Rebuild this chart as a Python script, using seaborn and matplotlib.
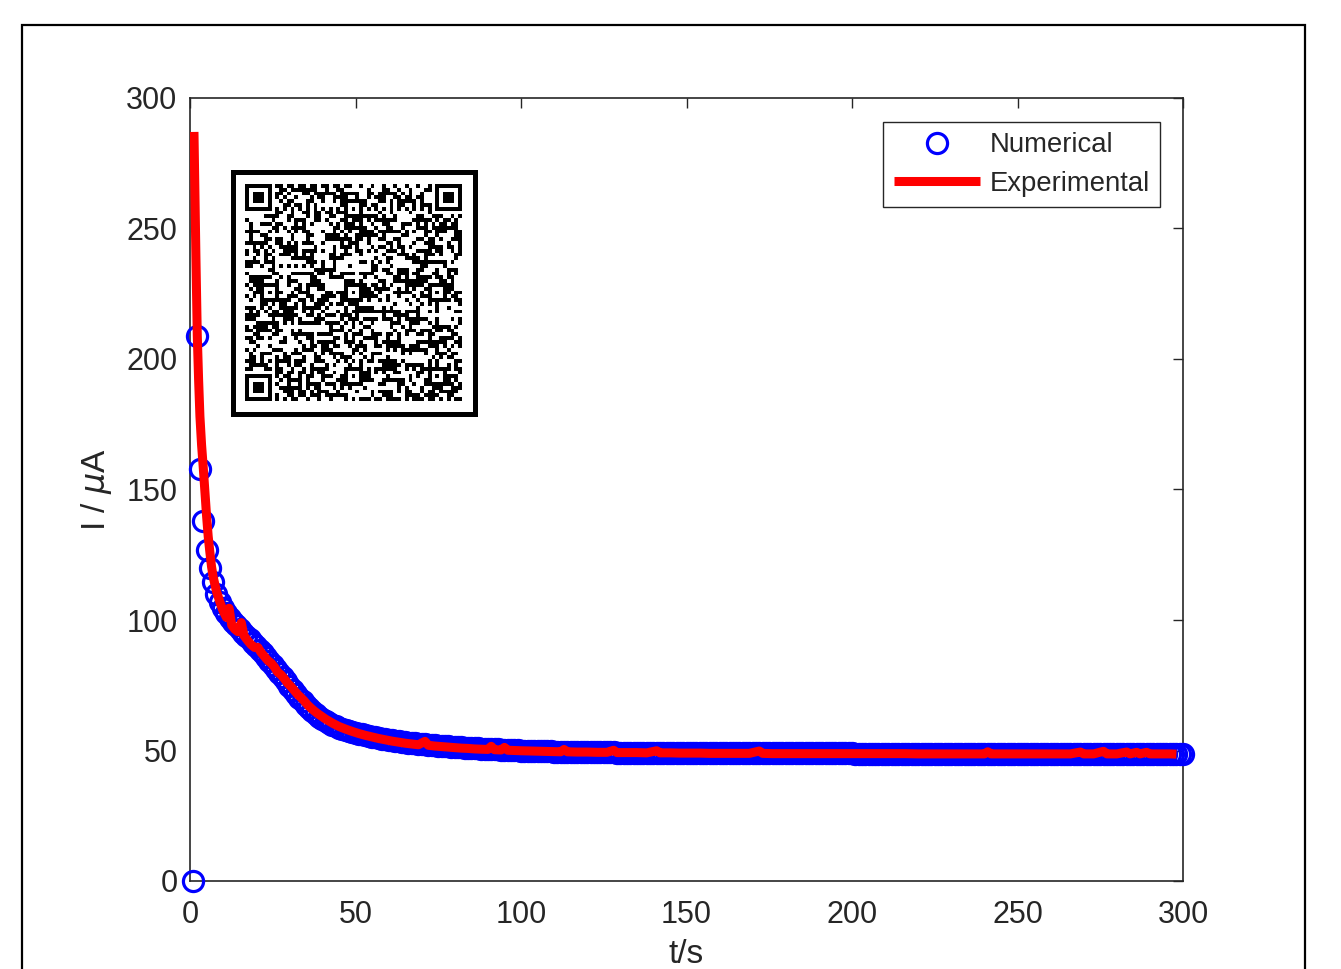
import numpy as np
import matplotlib
matplotlib.use("Agg")
import matplotlib.pyplot as plt
import seaborn as sns
from matplotlib.patches import Rectangle

# ---------------- data ----------------
t_num = np.arange(1, 301)  # numerical solution time grid (s)
I_num = [
    0, 209, 158, 138, 127, 120, 114.5, 110, 107, 104.5,
    102.5, 100.8, 99.3, 97.9, 96.5, 95.2, 93.9, 92.6, 91.3, 90.0,
    88.6, 87.2, 85.8, 84.4, 82.9, 81.3, 79.7, 78.1, 76.5, 74.9,
    73.3, 71.8, 70.3, 68.9, 67.6, 66.3, 65.1, 64.0, 63.0, 62.1,
    61.3, 60.6, 59.9, 59.3, 58.8, 58.3, 57.9, 57.5, 57.1, 56.8,
    56.5, 56.2, 55.9, 55.6, 55.3, 55.0, 54.7, 54.5, 54.3, 54.1,
    53.9, 53.7, 53.5, 53.3, 53.2, 53.0, 52.9, 52.7, 52.6, 52.5,
    52.4, 52.2, 52.1, 52.0, 51.9, 51.8, 51.7, 51.6, 51.5, 51.4,
    51.3, 51.2, 51.1, 51.0, 51.0, 50.9, 50.8, 50.7, 50.7, 50.6,
    50.5, 50.5, 50.4, 50.3, 50.3, 50.2, 50.2, 50.1, 50.1, 50.0,
    50.0, 49.9, 49.9, 49.8, 49.8, 49.8, 49.7, 49.7, 49.7, 49.6,
    49.6, 49.6, 49.5, 49.5, 49.5, 49.5, 49.4, 49.4, 49.4, 49.4,
    49.3, 49.3, 49.3, 49.3, 49.3, 49.3, 49.3, 49.3, 49.2, 49.2,
    49.2, 49.2, 49.2, 49.2, 49.2, 49.2, 49.2, 49.2, 49.2, 49.2,
    49.1, 49.1, 49.1, 49.1, 49.1, 49.1, 49.1, 49.1, 49.1, 49.1,
    49.1, 49.1, 49.1, 49.1, 49.1, 49.0, 49.0, 49.0, 49.0, 49.0,
    49.0, 49.0, 49.0, 49.0, 49.0, 49.0, 49.0, 49.0, 49.0, 49.0,
    49.0, 49.0, 49.0, 49.0, 49.0, 48.9, 48.9, 48.9, 48.9, 48.9,
    48.9, 48.9, 48.9, 48.9, 48.9, 48.9, 48.9, 48.9, 48.9, 48.9,
    48.9, 48.9, 48.9, 48.9, 48.9, 48.9, 48.9, 48.9, 48.9, 48.9,
    48.8, 48.8, 48.8, 48.8, 48.8, 48.8, 48.8, 48.8, 48.8, 48.8,
    48.8, 48.8, 48.8, 48.8, 48.8, 48.8, 48.8, 48.8, 48.8, 48.8,
    48.8, 48.8, 48.8, 48.8, 48.8, 48.8, 48.8, 48.8, 48.8, 48.8,
    48.7, 48.7, 48.7, 48.7, 48.7, 48.7, 48.7, 48.7, 48.7, 48.7,
    48.7, 48.7, 48.7, 48.7, 48.7, 48.7, 48.7, 48.7, 48.7, 48.7,
    48.7, 48.7, 48.7, 48.7, 48.7, 48.7, 48.7, 48.7, 48.7, 48.7,
    48.7, 48.7, 48.7, 48.7, 48.7, 48.7, 48.7, 48.7, 48.7, 48.7,
    48.6, 48.6, 48.6, 48.6, 48.6, 48.6, 48.6, 48.6, 48.6, 48.6,
    48.6, 48.6, 48.6, 48.6, 48.6, 48.6, 48.6, 48.6, 48.6, 48.6,
    48.6, 48.6, 48.6, 48.6, 48.6, 48.6, 48.6, 48.6, 48.6, 48.6,
]

t_exp = [
    1.2, 1.5, 1.8, 2.2, 2.6, 3.0, 3.5, 4.0, 4.5, 5.0,
    5.5, 6.0, 6.5, 7.0, 8.0, 9.0, 10.0, 11.0, 11.8, 12.6,
    13.5, 14.5, 15.5, 16.3, 17.5, 18.5, 19.5, 20.5, 21.5, 22.5,
    23.5, 24.5, 25.5, 26.5, 27.5, 28.5, 29.5, 30.5, 31.5, 32.5,
    33.5, 34.5, 35.5, 36.5, 37.5, 38.5, 39.5, 41, 43, 45,
    47, 49, 51, 53, 55, 57, 59, 61, 63, 65,
    67, 69, 71, 72, 74, 76, 78, 80, 82, 84,
    86, 88, 90, 91, 92, 94, 95, 96, 98, 100,
    103, 106, 109, 112, 113, 114, 117, 120, 123, 126,
    128, 129, 132, 135, 138, 141, 142, 145, 148, 151,
    154, 157, 160, 163, 166, 169, 172, 173, 176, 179,
    182, 185, 188, 191, 194, 197, 200, 204, 208, 212,
    216, 220, 224, 228, 232, 236, 240, 241, 242, 246,
    250, 254, 258, 262, 266, 269, 270, 273, 276, 277,
    280, 283, 284, 286, 287, 289, 290, 293, 296, 298,
]
I_exp = [
    287, 262, 238, 209, 192, 178, 167, 158.5, 149, 140,
    132, 126, 120.5, 116.5, 111, 107, 103.5, 101, 104.5, 98,
    96.5, 95.5, 99, 94, 92, 90.5, 89.5, 89.5, 87.5, 86,
    84.5, 83.5, 82, 80, 79, 77.5, 75.8, 74.5, 73, 71.5,
    70.3, 69, 67.5, 66.3, 65.2, 64.2, 63.3, 62, 60.5, 59.2,
    58.2, 57.3, 56.5, 55.8, 55.2, 54.6, 54.1, 53.6, 53.2, 52.8,
    52.5, 52.2, 53.5, 52.0, 51.7, 51.5, 51.3, 51.1, 50.9, 50.8,
    50.6, 50.5, 50.4, 51.6, 50.3, 50.2, 51.2, 50.1, 50.0, 49.9,
    49.8, 49.7, 49.6, 49.5, 50.4, 49.5, 49.4, 49.4, 49.3, 49.3,
    50.1, 49.2, 49.2, 49.2, 49.1, 49.9, 49.1, 49.1, 49.0, 49.0,
    49.0, 48.9, 48.9, 48.9, 48.9, 48.9, 49.8, 48.9, 48.8, 48.8,
    48.8, 48.8, 48.8, 48.8, 48.8, 48.8, 48.8, 48.8, 48.8, 48.8,
    48.8, 48.7, 48.7, 48.7, 48.7, 48.7, 48.7, 49.5, 48.7, 48.7,
    48.7, 48.7, 48.7, 48.7, 48.7, 49.4, 48.7, 48.7, 49.7, 48.7,
    48.7, 49.4, 48.7, 49.3, 48.7, 49.3, 48.7, 48.7, 48.7, 48.6,
]

x_ticks = [0, 50, 100, 150, 200, 250, 300]
y_ticks = [0, 50, 100, 150, 200, 250, 300]
series_names = ["Numerical", "Experimental"]
x_label = "t/s"
y_label = "I / $\\mu$A"

# ---------------- style ----------------
sns.set_style("white")
plt.rcParams["font.family"] = ["Liberation Sans", "DejaVu Sans"]
plt.rcParams["mathtext.fontset"] = "dejavusans"
DARK = "#262626"

W, H = 1341, 969
fig = plt.figure(figsize=(W / 100, H / 100), dpi=100)

# axes placement (pixels -> figure fraction)
l, r, t, b = 190, 1183, 98, 881
ax = fig.add_axes([l / W, 1 - b / H, (r - l) / W, (b - t) / H])

sns.lineplot(x=t_num, y=I_num, ax=ax, marker="o", linestyle="", mfc="none",
             mec="blue", ms=14.5, mew=2.3, color="blue", label=series_names[0],
             clip_on=False, zorder=3)
sns.lineplot(x=t_exp, y=I_exp, ax=ax, color="red", lw=6.5, label=series_names[1],
             zorder=4, sort=False, solid_capstyle="butt", solid_joinstyle="round")

ax.set_xlim(0, 300)
ax.set_ylim(0, 300)
ax.set_xticks(x_ticks)
ax.set_yticks(y_ticks)
ax.tick_params(direction="in", top=True, right=True, length=7, width=1.0,
               colors=DARK, labelsize=22, pad=9)
ax.tick_params(axis="x", pad=14)
for s in ax.spines.values():
    s.set_color(DARK)
    s.set_linewidth(1.2)

ax.set_xlabel(x_label, fontsize=24, color=DARK, labelpad=6.5)
ax.set_ylabel(y_label, fontsize=24, color=DARK, labelpad=9)

leg = ax.legend(loc="upper right", bbox_to_anchor=(1 - 23 / 993, 1 - 24 / 783),
                borderaxespad=0, fontsize=19.8, frameon=True, fancybox=False,
                handlelength=3.15, handletextpad=0.33, labelspacing=0.45,
                borderpad=0.38)
leg.get_frame().set_edgecolor(DARK)
leg.get_frame().set_linewidth(1.0)
leg.get_frame().set_alpha(1)
for ln in leg.get_lines():
    ln.set_solid_capstyle("butt")

# ---------------- QR code inset (decorative image) ----------------
n = 57
qr = np.zeros((n, n), dtype=int)
ii, jj = np.meshgrid(np.arange(n), np.arange(n), indexing="ij")
h = (ii * 73856093) ^ (jj * 19349663) ^ ((ii * jj) * 83492791)
qr[:] = ((h * 2654435761) >> 13) & 1

def finder(r0, c0):
    qr[max(r0 - 1, 0):min(r0 + 8, n), max(c0 - 1, 0):min(c0 + 8, n)] = 0
    qr[r0:r0 + 7, c0:c0 + 7] = 1
    qr[r0 + 1:r0 + 6, c0 + 1:c0 + 6] = 0
    qr[r0 + 2:r0 + 5, c0 + 2:c0 + 5] = 1

def align(rc, cc):
    qr[rc - 2:rc + 3, cc - 2:cc + 3] = 1
    qr[rc - 1:rc + 2, cc - 1:cc + 2] = 0
    qr[rc, cc] = 1

for k in range(8, n - 8):
    qr[6, k] = 1 - k % 2
    qr[k, 6] = 1 - k % 2
for rc in (6, 28, 50):
    for cc in (6, 28, 50):
        if (rc, cc) in [(6, 6), (6, 50), (50, 6)]:
            continue
        align(rc, cc)
finder(0, 0)
finder(0, n - 7)
finder(n - 7, 0)

il, ir, itop, ibot = 232.5, 474.5, 171.5, 413.5
iax = fig.add_axes([il / W, 1 - ibot / H, (ir - il) / W, (ibot - itop) / H])
iax.imshow(qr, cmap="gray_r", interpolation="nearest",
           extent=(0.052, 0.948, 0.052, 0.948), vmin=0, vmax=1)
iax.set_xlim(0, 1)
iax.set_ylim(0, 1)
iax.set_xticks([])
iax.set_yticks([])
iax.set_facecolor("white")
for s in iax.spines.values():
    s.set_color("black")
    s.set_linewidth(3.6)
    s.set_visible(True)

# ---------------- outer figure frame ----------------
fig.add_artist(Rectangle((22 / W, -0.1), (1305 - 22) / W, 1 - 25 / H + 0.1,
                         transform=fig.transFigure, fill=False, edgecolor="black",
                         linewidth=1.6, clip_on=False))

fig.savefig("out.png", dpi=100)
